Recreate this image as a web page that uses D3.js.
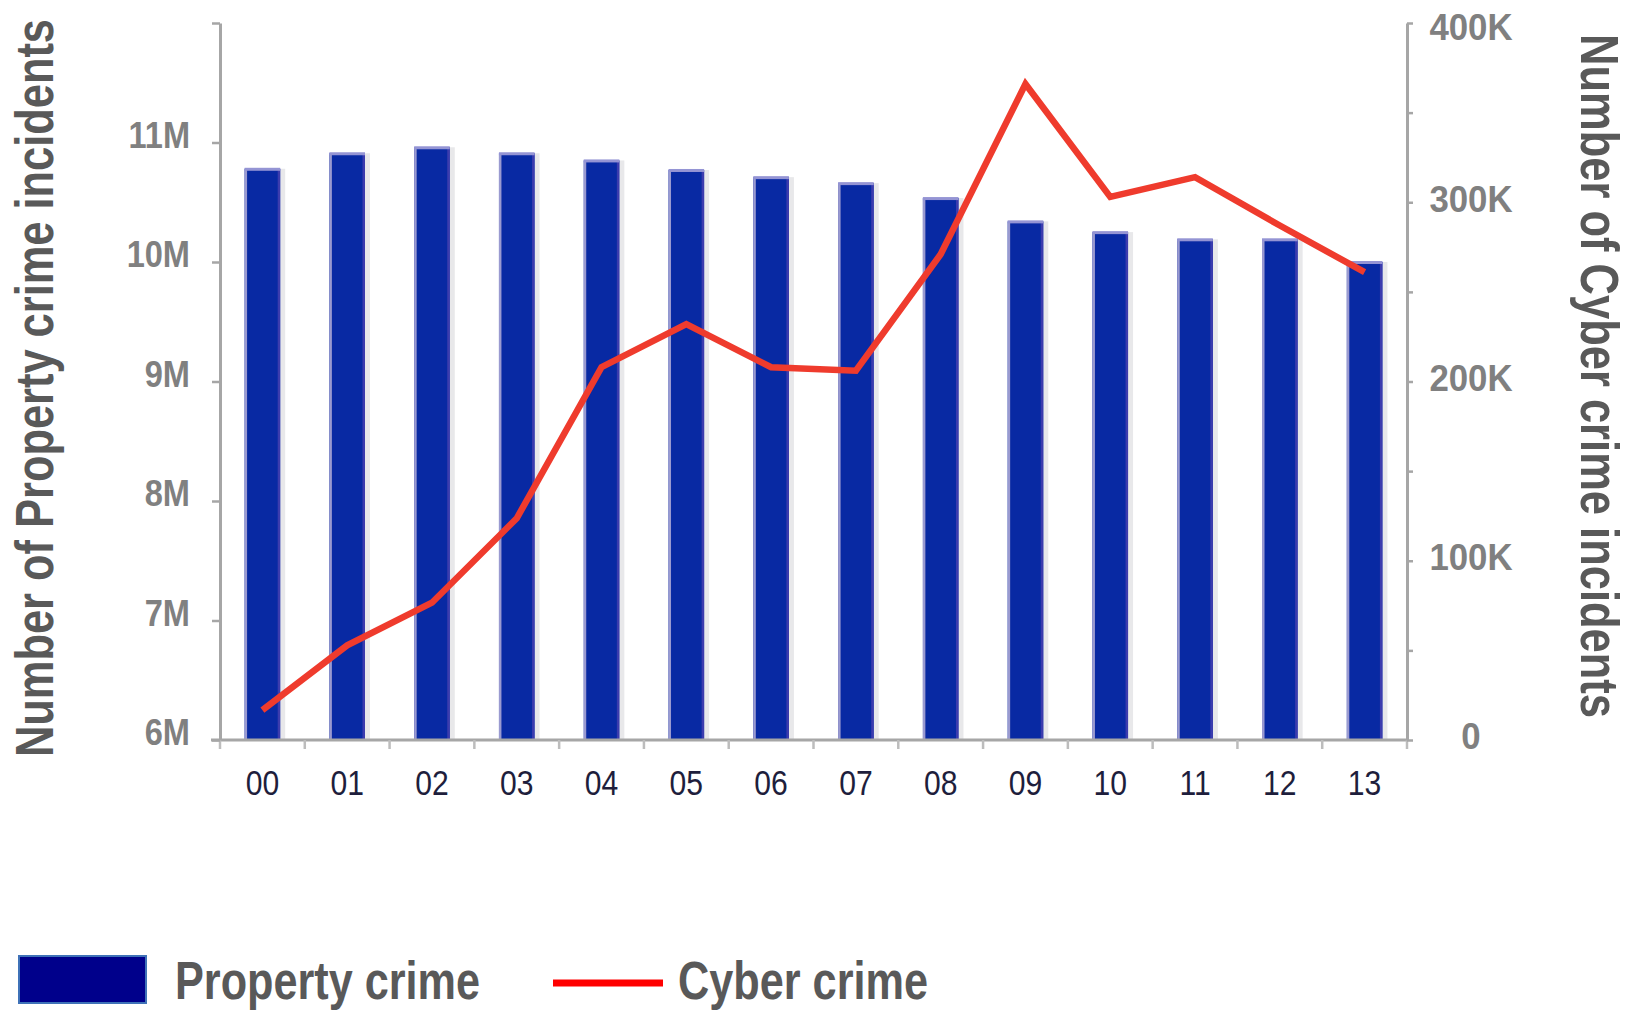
<!DOCTYPE html>
<html>
<head>
<meta charset="utf-8">
<script src="https://cdn.jsdelivr.net/npm/d3@7"></script>
<style>
  html, body { margin: 0; padding: 0; background: #ffffff; }
  svg { display: block; }
</style>
</head>
<body>
<script>
// ---------------- DATA ----------------
const years = ["00","01","02","03","04","05","06","07","08","09","10","11","12","13"];
const propertyCrime = [10780000, 10910000, 10960000, 10910000, 10850000, 10770000, 10710000,
                       10660000, 10535000, 10340000, 10250000, 10190000, 10190000, 10000000];
const cyberCrime = [16700, 52800, 76600, 123700, 208000, 232000, 208000,
                    206000, 271000, 366000, 303000, 314000, 287000, 261000];
const leftTicks = [6000000, 7000000, 8000000, 9000000, 10000000, 11000000, 12000000];
const leftTickLabels = ["6M", "7M", "8M", "9M", "10M", "11M", ""];
const rightTicks = [0, 50000, 100000, 150000, 200000, 250000, 300000, 350000, 400000];
const rightTickLabels = ["0", "", "100K", "", "200K", "", "300K", "", "400K"];
const leftTitle = "Number of Property crime incidents";
const rightTitle = "Number of Cyber crime incidents";
const legendLabels = ["Property crime", "Cyber crime"];

// ---------------- LAYOUT ----------------
const W = 1635, H = 1013;
const plot = { left: 220, right: 1407, top: 23, bottom: 740 };
const FONT = "'Liberation Sans Narrow', 'Arial Narrow', 'Liberation Sans', Arial, sans-serif";

const svg = d3.select("body").append("svg")
  .attr("width", W).attr("height", H)
  .attr("viewBox", `0 0 ${W} ${H}`);

const x = d3.scaleBand().domain(years)
  .range([plot.left, plot.right])
  .paddingInner(0.58).paddingOuter(0.29);
const yL = d3.scaleLinear().domain([6000000, 12000000]).range([plot.bottom, plot.top]);
const yR = d3.scaleLinear().domain([0, 400000]).range([plot.bottom, plot.top]);

function squeeze(sel, factor) {
  sel.each(function() {
    const len = this.getComputedTextLength();
    d3.select(this).attr("textLength", len * factor).attr("lengthAdjust", "spacingAndGlyphs");
  });
}

// ---------------- BARS ----------------
const bars = svg.append("g");
const bw = x.bandwidth();
years.forEach((yr, i) => {
  const x0 = x(yr), yTop = yL(propertyCrime[i]), h = plot.bottom - yTop;
  bars.append("rect").attr("x", x0 + bw).attr("y", yTop).attr("width", 5).attr("height", h).attr("fill", "#e8e8ea");
  bars.append("rect").attr("x", x0).attr("y", yTop).attr("width", bw).attr("height", h).attr("fill", "#0829a3");
  bars.append("rect").attr("x", x0).attr("y", yTop).attr("width", 2.5).attr("height", h).attr("fill", "#9a9ad0");
  bars.append("rect").attr("x", x0 + bw - 2.5).attr("y", yTop).attr("width", 2.5).attr("height", h).attr("fill", "#3c3cae");
  bars.append("rect").attr("x", x0).attr("y", yTop - 1).attr("width", bw).attr("height", 3).attr("fill", "#9494d4");
});

// ---------------- AXES ----------------
// x axis line + ticks at band boundaries
const xAxisG = svg.append("g");
xAxisG.append("line").attr("x1", plot.left - 9).attr("x2", plot.right)
  .attr("y1", plot.bottom).attr("y2", plot.bottom)
  .attr("stroke", "#a6a6a6").attr("stroke-width", 3);
const bounds = years.map(d => x(d) - x.step() * x.paddingInner() / 2);
bounds.push(plot.right);
bounds.forEach(bx => {
  xAxisG.append("line").attr("x1", bx).attr("x2", bx)
    .attr("y1", plot.bottom).attr("y2", plot.bottom + 9)
    .attr("stroke", "#bdbdbd").attr("stroke-width", 2.5);
});
const xAxis = d3.axisBottom(x).tickSize(0).tickSizeOuter(0);
const xg = svg.append("g").attr("transform", `translate(0,${plot.bottom})`).call(xAxis);
xg.select(".domain").remove();
xg.selectAll("text")
  .attr("y", 55).attr("dy", 0)
  .attr("font-family", "'Liberation Sans', Arial, sans-serif")
  .attr("font-size", 35).attr("fill", "#1e1e3c");
squeeze(xg.selectAll("text"), 0.86);

// left axis
const leftAxis = d3.axisLeft(yL).tickValues(leftTicks)
  .tickFormat((d, i) => leftTickLabels[i]).tickSize(8).tickSizeOuter(0).tickPadding(22);
const lg = svg.append("g").attr("transform", `translate(${plot.left},0)`).call(leftAxis);
lg.select(".domain").attr("stroke", "#a6a6a6").attr("stroke-width", 3);
lg.selectAll(".tick line").attr("stroke", "#a6a6a6").attr("stroke-width", 2.5);
lg.selectAll("text")
  .attr("font-family", "'Liberation Sans', Arial, sans-serif")
  .attr("font-weight", "bold").attr("font-size", 37)
  .attr("fill", "#808080").attr("y", -7);
squeeze(lg.selectAll("text").filter(function(){ return this.textContent !== ""; }), 0.88);

// right axis
const rightAxis = d3.axisRight(yR).tickValues(rightTicks)
  .tickFormat((d, i) => rightTickLabels[i]).tickSize(6).tickSizeOuter(0).tickPadding(0);
const rg = svg.append("g").attr("transform", `translate(${plot.right},0)`).call(rightAxis);
rg.select(".domain").attr("stroke", "#a6a6a6").attr("stroke-width", 3);
rg.selectAll(".tick line").attr("stroke", "#a6a6a6").attr("stroke-width", 2.5);
rg.selectAll("text")
  .attr("font-family", "'Liberation Sans', Arial, sans-serif")
  .attr("font-weight", "bold").attr("font-size", 37)
  .attr("fill", "#808080").attr("text-anchor", "middle").attr("x", 64).attr("y", -3);
squeeze(rg.selectAll("text").filter(function(){ return this.textContent !== ""; }), 0.94);
rg.selectAll(".tick").filter(d => d === 400000).select("text").attr("y", 5);

// ---------------- LINE ----------------
const line = d3.line()
  .x((d, i) => x(years[i]) + bw / 2)
  .y(d => yR(d));
svg.append("path").datum(cyberCrime)
  .attr("d", line)
  .attr("fill", "none")
  .attr("stroke", "#ef3b2d")
  .attr("stroke-width", 6.5)
  .attr("stroke-linejoin", "miter");

// ---------------- TITLES ----------------
const lt = svg.append("text")
  .attr("transform", "translate(53,388) rotate(-90)")
  .attr("text-anchor", "middle")
  .attr("font-family", FONT).attr("font-weight", "bold").attr("font-size", 53)
  .attr("fill", "#595959").text(leftTitle)
  .attr("textLength", 738).attr("lengthAdjust", "spacingAndGlyphs");

const rt = svg.append("text")
  .attr("transform", "translate(1581,376) rotate(90)")
  .attr("text-anchor", "middle")
  .attr("font-family", FONT).attr("font-weight", "bold").attr("font-size", 53)
  .attr("fill", "#595959").text(rightTitle)
  .attr("textLength", 684).attr("lengthAdjust", "spacingAndGlyphs");

// ---------------- LEGEND ----------------
const leg = svg.append("g");
leg.append("rect").attr("x", 19).attr("y", 956).attr("width", 127).attr("height", 47)
  .attr("fill", "#00008b").attr("stroke", "#3f72b8").attr("stroke-width", 2);
leg.append("text").attr("x", 175).attr("y", 999)
  .attr("font-family", FONT).attr("font-weight", "bold").attr("font-size", 53)
  .attr("fill", "#595959").text(legendLabels[0])
  .attr("textLength", 305).attr("lengthAdjust", "spacingAndGlyphs");
leg.append("line").attr("x1", 553).attr("x2", 663).attr("y1", 983).attr("y2", 983)
  .attr("stroke", "#ff0000").attr("stroke-width", 7);
leg.append("text").attr("x", 678).attr("y", 999)
  .attr("font-family", FONT).attr("font-weight", "bold").attr("font-size", 53)
  .attr("fill", "#595959").text(legendLabels[1])
  .attr("textLength", 250).attr("lengthAdjust", "spacingAndGlyphs");
</script>
</body>
</html>
